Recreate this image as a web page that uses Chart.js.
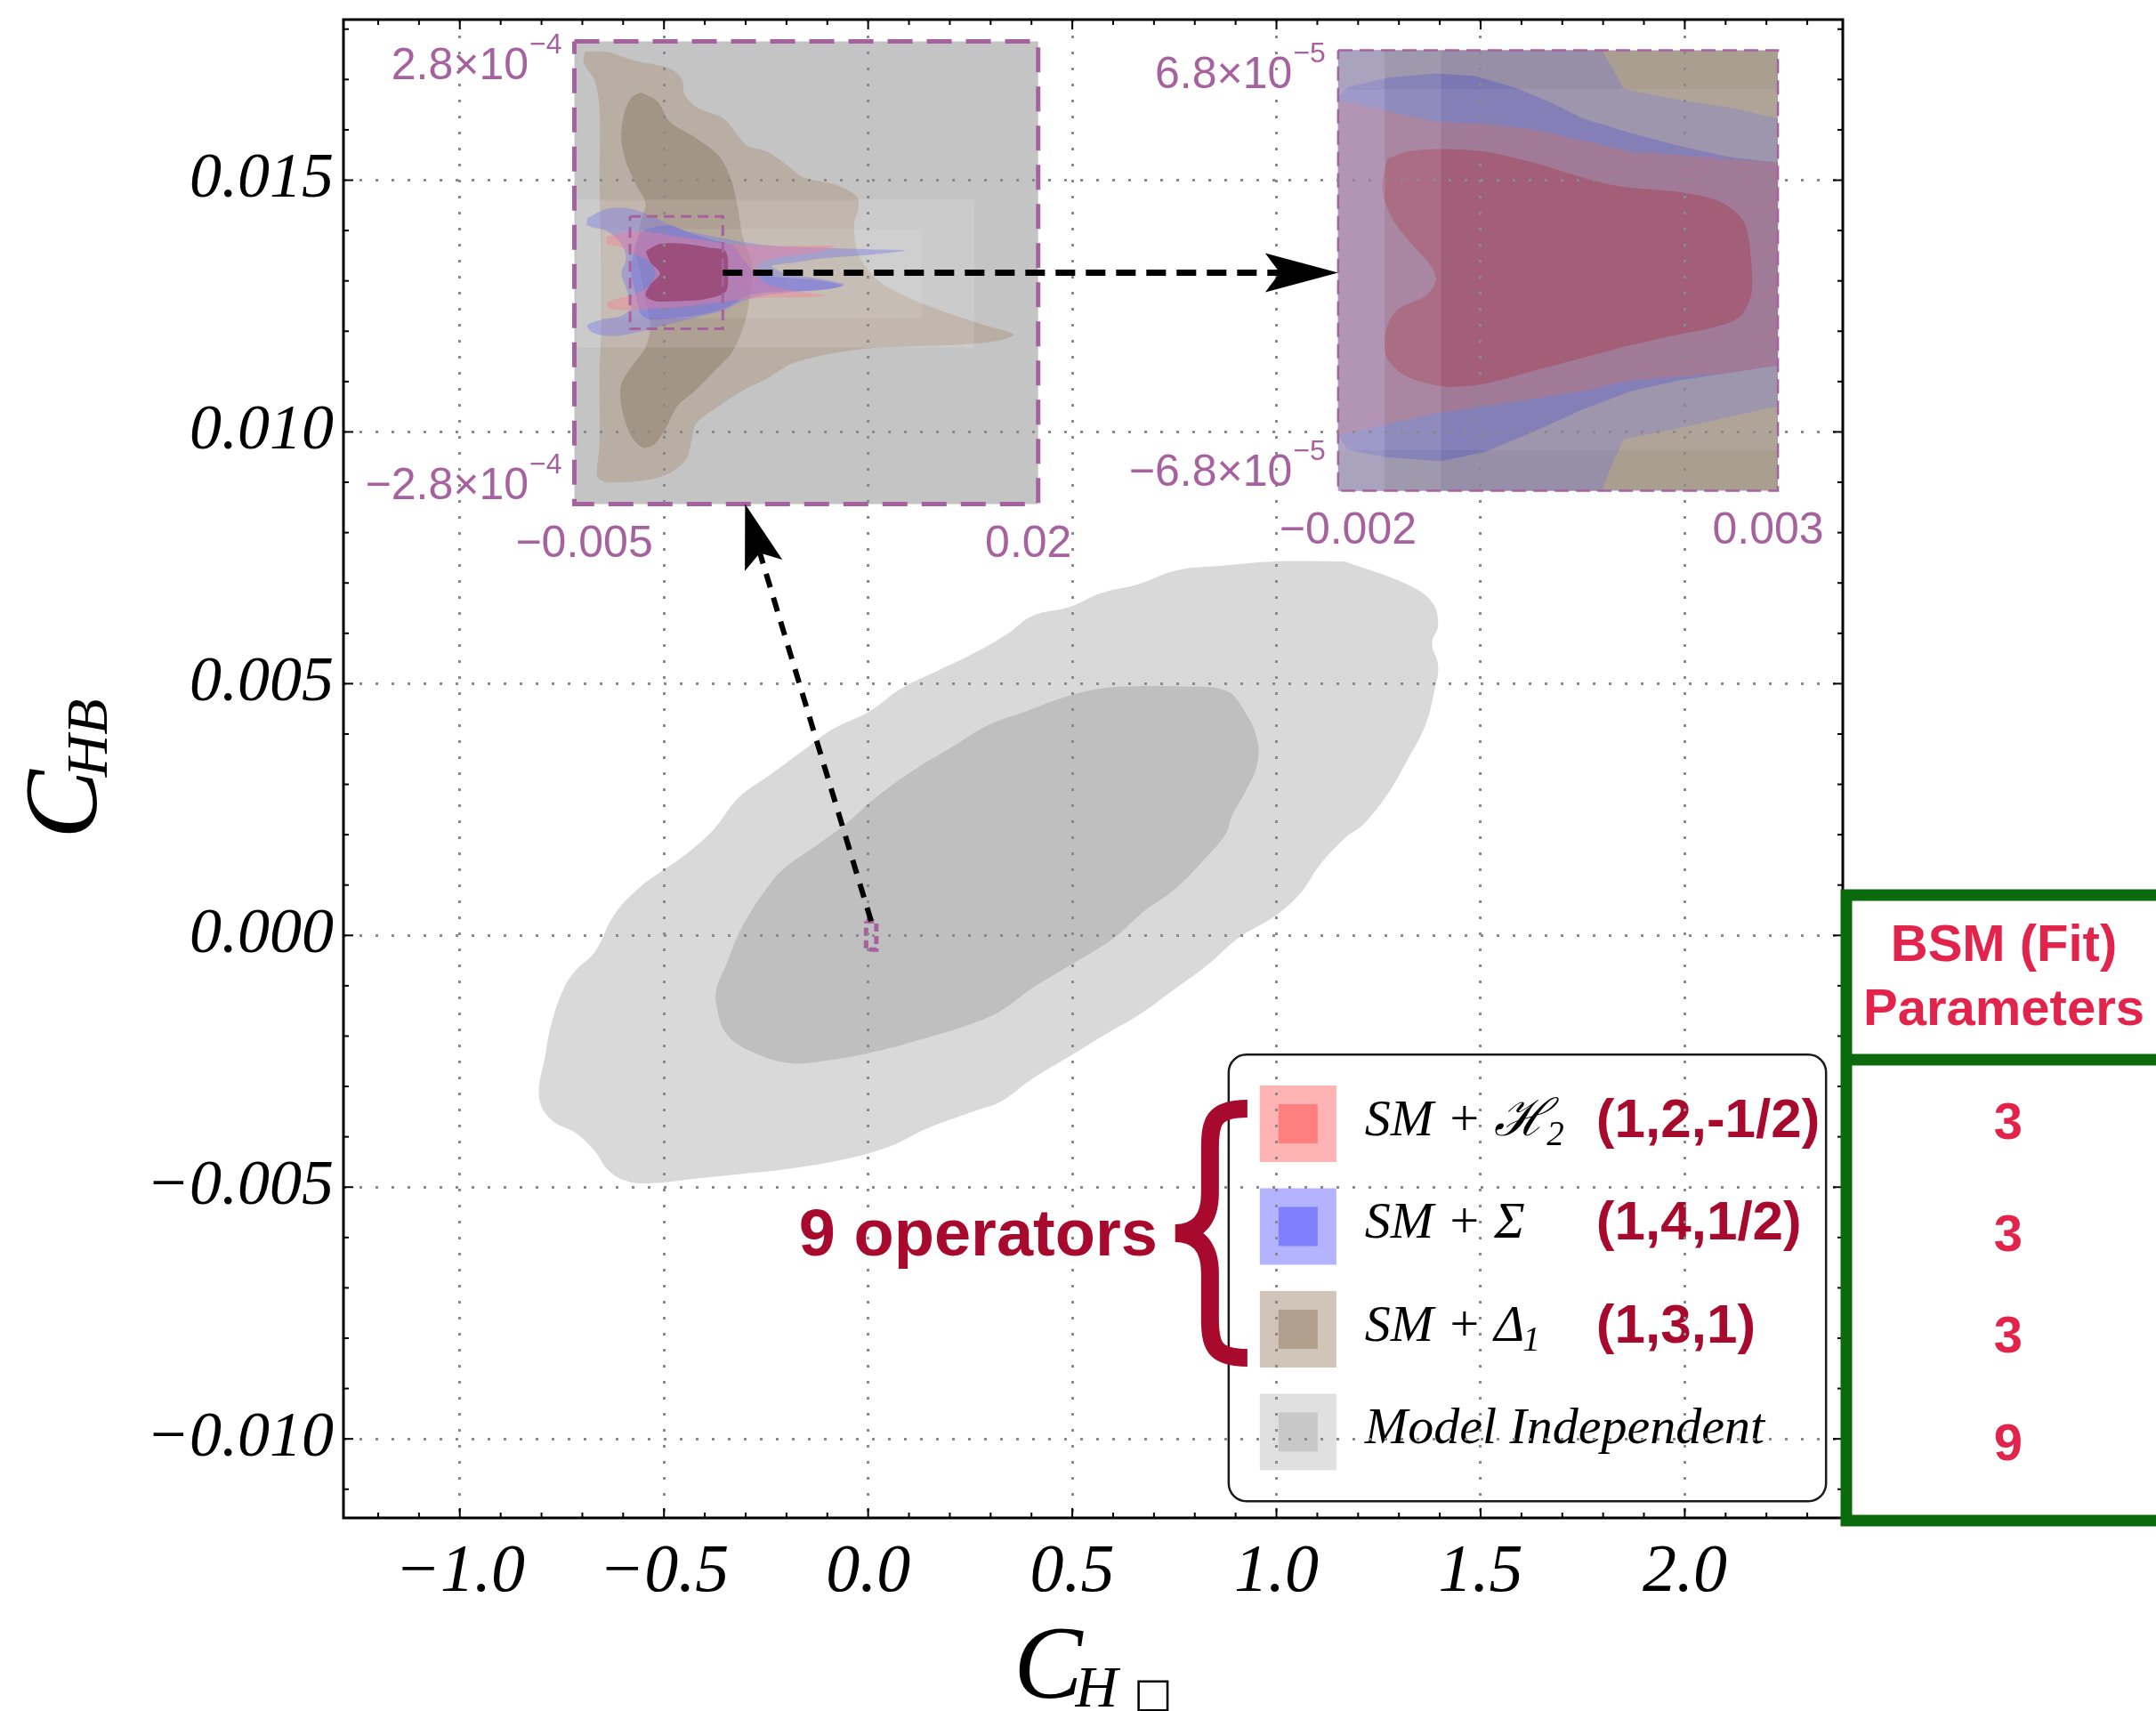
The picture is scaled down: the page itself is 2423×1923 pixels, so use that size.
<!DOCTYPE html>
<html>
<head>
<meta charset="utf-8">
<title>C_HB vs C_H□</title>
<script src="https://cdn.jsdelivr.net/npm/chart.js@4.4.1/dist/chart.umd.min.js"></script>
<style>
html, body { margin: 0; padding: 0; background: #ffffff; overflow: hidden; }
#wrap { position: relative; width: 2423px; height: 1923px; }
canvas { display: block; }
</style>
</head>
<body>
<div id="wrap"><canvas id="chart" width="2423" height="1923"></canvas></div>
<script>
// ------------------------------------------------------------------ data
const X_RANGE = [-1.285, 2.387];
const Y_RANGE = [-0.01157, 0.01819];
const X_STEP = 0.5;
const Y_STEP = 0.005;

const AXIS_TITLE_X = { main: 'C', sub: 'H', box: '\u25A1' };
const AXIS_TITLE_Y = { main: 'C', sub: 'HB' };

const SERIES_NAMES = ['SM + \u210B', 'SM + \u03A3', 'SM + \u0394', 'Model Independent'];
const SERIES_SUBS = ['2', '', '1', ''];
const SERIES_REPS = ['(1,2,-1/2)', '(1,4,1/2)', '(1,3,1)', ''];
const FIT_PARAMS = ['3', '3', '3', '9'];
const TABLE_HEADER = ['BSM (Fit)', 'Parameters'];
const BRACE_LABEL = '9 operators';

// Model independent 68% / 95% regions (C_H□, C_HB)
const MI_OUTER = [[1.167,0.007428],[1.319,0.006977],[1.381,0.006617],[1.396,0.006166],[1.381,0.005806],[1.396,0.005354],[1.388,0.004903],[1.365,0.004182],[1.319,0.003461],[1.274,0.002830],[1.212,0.002200],[1.167,0.001929],[1.105,0.001389],[1.060,0.000848],[0.998,0.000396],[0.906,-0.000055],[0.830,-0.000595],[0.754,-0.001046],[0.662,-0.001587],[0.585,-0.001947],[0.494,-0.002398],[0.402,-0.002848],[0.325,-0.003300],[0.264,-0.003481],[0.142,-0.003841],[0.050,-0.004201],[-0.072,-0.004472],[-0.210,-0.004652],[-0.317,-0.004742],[-0.424,-0.004832],[-0.531,-0.004922],[-0.592,-0.004877],[-0.638,-0.004652],[-0.669,-0.004291],[-0.715,-0.003931],[-0.776,-0.003661],[-0.806,-0.003209],[-0.791,-0.002398],[-0.776,-0.001767],[-0.745,-0.001046],[-0.715,-0.000686],[-0.669,-0.000325],[-0.623,0.000396],[-0.562,0.000936],[-0.501,0.001299],[-0.439,0.001659],[-0.378,0.002110],[-0.317,0.002740],[-0.240,0.003191],[-0.164,0.003641],[-0.088,0.004092],[0.004,0.004452],[0.081,0.004903],[0.172,0.005263],[0.264,0.005624],[0.341,0.005986],[0.402,0.006346],[0.494,0.006527],[0.570,0.006797],[0.662,0.006977],[0.754,0.007247],[0.861,0.007338],[0.998,0.007428]];
const MI_INNER = [[0.754,0.004949],[0.876,0.004859],[0.922,0.004452],[0.952,0.003912],[0.952,0.003371],[0.922,0.002830],[0.891,0.002380],[0.876,0.002019],[0.830,0.001569],[0.754,0.000936],[0.677,0.000486],[0.601,-0.000055],[0.494,-0.000595],[0.402,-0.001046],[0.325,-0.001496],[0.249,-0.001767],[0.142,-0.002037],[0.019,-0.002307],[-0.103,-0.002488],[-0.195,-0.002534],[-0.286,-0.002307],[-0.348,-0.001947],[-0.371,-0.001406],[-0.371,-0.001046],[-0.348,-0.000595],[-0.317,0.000035],[-0.286,0.000486],[-0.256,0.000848],[-0.210,0.001299],[-0.133,0.001749],[-0.057,0.002200],[0.019,0.002740],[0.111,0.003281],[0.203,0.003731],[0.295,0.004182],[0.387,0.004452],[0.478,0.004723],[0.570,0.004903],[0.662,0.004949]];

// inset 1 : range and placement (placement given in main-axis data units)
const INSET1_RANGE = { x: [-0.005, 0.02], y: [-2.8e-4, 2.8e-4] };
const INSET1_BOX = { x: [-0.7194, 0.4164], y: [0.008569, 0.017756] };
const INSET1_TICKS = { x: ['\u22120.005', '0.02'], y: [['2.8', '\u22124'], ['\u22122.8', '\u22124']] };
const INSET1_LIGHT_A = { x: [-0.0049, 0.01654], y: [-9.05e-5, 8.83e-5] };
const INSET1_LIGHT_B = { x: [-0.00351, 0.01371], y: [-5.49e-5, 5.28e-5] };
const D1_OUTER_1 = [[-0.00443,2.675e-4],[-0.00325,2.675e-4],[-0.00168,2.563e-4],[0.00015,2.473e-4],[0.0008,2.339e-4],[0.00093,2.16e-4],[0.00158,2.004e-4],[0.00302,1.87e-4],[0.0038,1.668e-4],[0.00433,1.534e-4],[0.00537,1.467e-4],[0.00655,1.288e-4],[0.00733,1.154e-4],[0.00903,1.065e-4],[0.0102,9.3e-5],[0.01033,7.96e-5],[0.01007,5.73e-5],[0.01033,2.15e-5],[0.01138,-9.8e-6],[0.01321,-3.22e-5],[0.0153,-5.01e-5],[0.01713,-6.35e-5],[0.01869,-7.47e-5],[0.01804,-8.14e-5],[0.01608,-8.68e-5],[0.01347,-8.9e-5],[0.01086,-9.17e-5],[0.00851,-9.93e-5],[0.00668,-1.105e-4],[0.00537,-1.284e-4],[0.00433,-1.396e-4],[0.00276,-1.619e-4],[0.00158,-1.82e-4],[0.00132,-2.022e-4],[0.00106,-2.245e-4],[0.00015,-2.424e-4],[-0.00116,-2.514e-4],[-0.00325,-2.536e-4],[-0.00377,-2.468e-4],[-0.00364,-2.066e-4],[-0.00364,-1.172e-4],[-0.00356,-7.25e-5],[-0.00356,1.7e-5],[-0.00364,1.065e-4],[-0.00364,1.959e-4],[-0.0039,2.317e-4],[-0.0045,2.541e-4]];
const D1_INNER_1 = [[-0.00142,2.183e-4],[-0.00051,2.071e-4],[0.00015,1.825e-4],[0.00145,1.646e-4],[0.00276,1.422e-4],[0.00341,1.154e-4],[0.0038,7.96e-5],[0.00407,4.38e-5],[0.00459,8.1e-6],[0.00446,-2.77e-5],[0.0042,-5.9e-5],[0.00354,-9.48e-5],[0.00263,-1.172e-4],[0.00145,-1.439e-4],[0.00054,-1.619e-4],[0.00002,-1.842e-4],[-0.00064,-2.066e-4],[-0.00129,-2.12e-4],[-0.00194,-1.977e-4],[-0.00247,-1.619e-4],[-0.00247,-1.35e-4],[-0.00181,-1.105e-4],[-0.00116,-9.04e-5],[-0.0009,-6.35e-5],[-0.00116,-3.67e-5],[-0.00142,-9e-7],[-0.00168,2.59e-5],[-0.00142,6.17e-5],[-0.00116,8.41e-5],[-0.00168,1.065e-4],[-0.00221,1.333e-4],[-0.00247,1.601e-4],[-0.00234,1.914e-4],[-0.00194,2.116e-4]];
const SIG_OUTER_1 = [[-0.0043,6.62e-5],[-0.00325,7.74e-5],[-0.00194,7.74e-5],[-0.00064,6.62e-5],[0.00067,5.28e-5],[0.00198,4.61e-5],[0.00302,4.16e-5],[0.00407,3.71e-5],[0.00563,3.26e-5],[0.00824,3.04e-5],[0.01086,2.82e-5],[0.01282,2.68e-5],[0.01086,2.15e-5],[0.00824,1.7e-5],[0.00694,1.25e-5],[0.00563,8.1e-6],[0.00642,-9e-7],[0.00824,-7.6e-6],[0.00955,-1.43e-5],[0.00903,-1.88e-5],[0.00694,-2.33e-5],[0.00511,-2.77e-5],[0.00407,-3.44e-5],[0.00302,-4.56e-5],[0.00145,-5.46e-5],[-0.00012,-6.35e-5],[-0.00168,-7.25e-5],[-0.00299,-7.69e-5],[-0.00403,-7.25e-5],[-0.0043,-6.35e-5],[-0.00351,-5.68e-5],[-0.00247,-5.23e-5],[-0.00194,-4.12e-5],[-0.00221,-1.88e-5],[-0.00247,-9e-7],[-0.00221,1.7e-5],[-0.00247,3.49e-5],[-0.00325,5.05e-5],[-0.0043,5.73e-5]];
const SIG_INNER_1 = [[-0.00116,5.28e-5],[0.00015,5.73e-5],[0.00119,4.83e-5],[0.0025,3.94e-5],[0.00354,3.26e-5],[0.00407,1.7e-5],[0.00485,-9e-7],[0.00824,-9.8e-6],[0.00942,-1.56e-5],[0.00824,-2.1e-5],[0.00563,-2.33e-5],[0.00433,-2.77e-5],[0.00328,-4.12e-5],[0.00198,-5.01e-5],[0.00041,-5.46e-5],[-0.0009,-5.68e-5],[-0.00142,-5.01e-5],[-0.00168,-2.77e-5],[-0.00194,-9e-7],[-0.00181,2.59e-5],[-0.00155,4.38e-5]];
const H2_OUTER_1 = [[-0.00325,4.38e-5],[-0.00221,4.92e-5],[-0.0009,4.92e-5],[0.00041,4.38e-5],[0.00198,3.94e-5],[0.00328,3.49e-5],[0.00511,3.26e-5],[0.00694,3.26e-5],[0.00903,3.26e-5],[0.00824,2.59e-5],[0.00694,2.15e-5],[0.00563,1.7e-5],[0.00485,8.1e-6],[0.00511,-9.8e-6],[0.00616,-1.88e-5],[0.0072,-2.33e-5],[0.00851,-2.77e-5],[0.0072,-3.0e-5],[0.00563,-3.0e-5],[0.00407,-3.22e-5],[0.0025,-3.67e-5],[0.00093,-4.12e-5],[-0.00064,-4.34e-5],[-0.00221,-4.56e-5],[-0.00312,-4.34e-5],[-0.00325,-3.67e-5],[-0.00247,-3.0e-5],[-0.00168,-2.55e-5],[-0.0009,-1.43e-5],[-0.00064,-9e-7],[-0.0009,1.25e-5],[-0.00168,2.15e-5],[-0.00247,3.04e-5],[-0.00325,3.49e-5]];
const H2_INNER_1 = [[-0.00116,2.59e-5],[-0.00038,3.49e-5],[0.00093,3.49e-5],[0.00224,3.04e-5],[0.00315,2.59e-5],[0.00328,-9e-7],[0.00315,-2.33e-5],[0.00198,-3.22e-5],[0.00041,-3.44e-5],[-0.00064,-3.44e-5],[-0.00116,-2.77e-5],[-0.0009,-1.43e-5],[-0.00038,-9e-7],[-0.0009,1.25e-5]];

// inset 2 : range and placement
const INSET2_RANGE = { x: [-0.002, 0.003], y: [-6.8e-5, 6.8e-5] };
const INSET2_BOX = { x: [1.1511, 2.2281], y: [0.008834, 0.017580] };
const INSET2_TICKS = { x: ['\u22120.002', '0.003'], y: [['6.8', '\u22125'], ['\u22126.8', '\u22125']] };
const INSET2_BAND = { x: [-0.002, 0.003], y: [-5.55e-5, 5.6e-5] };
const INSET2_STRIP_L = { x: [-0.002, -0.00147], y: [-6.8e-5, 6.8e-5] };
const INSET2_STRIP_M = { x: [-0.00147, -0.00083], y: [-6.8e-5, 6.8e-5] };
const SIG_OUTER_2 = [[-0.002,6.8e-5],[0.001,6.8e-5],[0.001111,6.288e-5],[0.00125,5.605e-5],[0.001889,5.264e-5],[0.002444,5.036e-5],[0.003,4.695e-5],[0.003,-4.183e-5],[0.002444,-4.524e-5],[0.001889,-4.865e-5],[0.00125,-5.207e-5],[0.001111,-6.003e-5],[0.001,-6.8e-5],[-0.002,-6.8e-5]];
const SIG_INNER_2 = [[-0.002,5.377e-5],[-0.001889,5.662e-5],[-0.001444,5.946e-5],[-0.000889,6.083e-5],[-0.000444,6.003e-5],[0.000056,5.605e-5],[0.000444,5.15e-5],[0.000778,4.695e-5],[0.001333,4.239e-5],[0.001889,3.841e-5],[0.002444,3.5e-5],[0.003,3.329e-5],[0.003,-2.93e-5],[0.002444,-3.158e-5],[0.001889,-3.386e-5],[0.001333,-3.727e-5],[0.000778,-4.296e-5],[0.000222,-4.979e-5],[-0.000333,-5.605e-5],[-0.000833,-5.889e-5],[-0.001444,-5.775e-5],[-0.001889,-5.548e-5],[-0.002,-5.093e-5]];
const H2_OUTER_2 = [[-0.002,5.264e-5],[-0.001444,4.922e-5],[-0.000889,4.581e-5],[-0.000333,4.524e-5],[0.000222,4.353e-5],[0.000778,4.012e-5],[0.001333,3.67e-5],[0.001889,3.556e-5],[0.002444,3.443e-5],[0.003,3.329e-5],[0.003,-2.93e-5],[0.002444,-3.158e-5],[0.001889,-3.272e-5],[0.001333,-3.386e-5],[0.000778,-3.727e-5],[0.000222,-3.955e-5],[-0.000333,-4.183e-5],[-0.000889,-4.41e-5],[-0.001444,-4.751e-5],[-0.002,-5.093e-5]];
const H2_INNER_2 = [[-0.001444,3.443e-5],[-0.001222,3.67e-5],[-0.000889,3.75e-5],[-0.000333,3.67e-5],[0.000222,3.329e-5],[0.000778,2.874e-5],[0.001222,2.589e-5],[0.001889,2.418e-5],[0.002333,2.134e-5],[0.002611,1.508e-5],[0.002694,3.7e-6],[0.002694,-7.68e-6],[0.002556,-1.451e-5],[0.002222,-1.792e-5],[0.001889,-1.963e-5],[0.001333,-2.305e-5],[0.000778,-2.703e-5],[0.000222,-3.101e-5],[-0.000333,-3.5e-5],[-0.000778,-3.591e-5],[-0.001222,-3.272e-5],[-0.001444,-2.703e-5],[-0.001461,-1.906e-5],[-0.001333,-1.223e-5],[-0.001,-7.68e-6],[-0.000889,-3.13e-6],[-0.000944,1.42e-6],[-0.001167,8.25e-6],[-0.001389,1.622e-5],[-0.0015,2.532e-5]];

// annotation anchors
const LEGEND_BOX = { x: [0.883, 2.346], y: [-0.011237, -0.0023675] };
const ARROW1 = { from: [0.0075, 2.8e-4], to: [0.0042, -2.8e-4] };   // main -> inset 1
const ARROW2 = { from: [0.003, 0], to: [-0.002, 0] };              // inset 1 -> inset 2

// ------------------------------------------------------------------ styles
const SERIF = '"Liberation Serif", "DejaVu Serif", serif';
const SANS = '"Liberation Sans", Arial, sans-serif';
const C_PURPLE = '#A6619F';
const C_DARKRED = '#A80A2E';
const C_TABLE_TEXT = '#E2244C';
const C_GREEN = '#0B6A0B';
const SWATCH_OUTER = ['#FFB3B3', '#B3B3FF', '#D0C5B8', '#E0E0E0'];
const SWATCH_INNER = ['#FF7F7F', '#7F7FFF', '#B09F8D', '#C8C8C8'];

function rectPts(r) { return [[r.x[0], r.y[1]], [r.x[1], r.y[1]], [r.x[1], r.y[0]], [r.x[0], r.y[0]]]; }
function closed(pts) { const d = pts.map(p => ({ x: p[0], y: p[1] })); d.push({ x: pts[0][0], y: pts[0][1] }); return d; }
function area(pts, color, xID, yID, tension) {
  return { type: 'line', data: closed(pts), xAxisID: xID, yAxisID: yID, backgroundColor: color,
    borderColor: 'rgba(0,0,0,0)', borderWidth: 0, pointRadius: 0, pointHoverRadius: 0, fill: 'shape', tension: tension };
}
function outline(pts, color, width, dash, xID, yID) {
  return { type: 'line', data: closed(pts), xAxisID: xID, yAxisID: yID, borderColor: color, borderWidth: width,
    borderDash: dash, borderCapStyle: 'butt', borderJoinStyle: 'miter', fill: false, pointRadius: 0, pointHoverRadius: 0, tension: 0, clip: false };
}

const layers = [
  area(MI_OUTER, '#D9D9D9', 'x', 'y', 0.4),
  area(MI_INNER, '#BFBFBF', 'x', 'y', 0.4),
  // inset 1
  area(rectPts(INSET1_RANGE), '#C4C4C4', 'ix', 'iy', 0),
  area(D1_OUTER_1, '#B9AEA3', 'ix', 'iy', 0.3),
  area(D1_INNER_1, '#A39585', 'ix', 'iy', 0.3),
  area(rectPts(INSET1_LIGHT_A), 'rgba(255,255,255,0.12)', 'ix', 'iy', 0),
  area(rectPts(INSET1_LIGHT_B), 'rgba(255,255,255,0.09)', 'ix', 'iy', 0),
  area(SIG_OUTER_1, 'rgba(120,120,230,0.42)', 'ix', 'iy', 0.3),
  area(SIG_INNER_1, 'rgba(100,100,230,0.35)', 'ix', 'iy', 0.3),
  area(H2_OUTER_1, 'rgba(255,120,140,0.36)', 'ix', 'iy', 0.3),
  area(H2_INNER_1, 'rgba(140,45,85,0.58)', 'ix', 'iy', 0.3),
  outline(rectPts(INSET1_RANGE), C_PURPLE, 5, [28, 16], 'ix', 'iy'),
  outline(rectPts(INSET2_RANGE), C_PURPLE, 3, [12, 7], 'ix', 'iy'),
  // inset 2
  area(rectPts(INSET2_RANGE), '#AA9E91', 'jx', 'jy', 0),
  area(SIG_OUTER_2, '#968FA7', 'jx', 'jy', 0),
  area(SIG_INNER_2, '#7B77B2', 'jx', 'jy', 0),
  area(H2_OUTER_2, '#9A7091', 'jx', 'jy', 0),
  area(H2_INNER_2, '#9D536E', 'jx', 'jy', 0.3),
  area(rectPts(INSET2_BAND), 'rgba(255,255,255,0.07)', 'jx', 'jy', 0),
  area(rectPts(INSET2_STRIP_L), 'rgba(215,205,240,0.32)', 'jx', 'jy', 0),
  area(rectPts(INSET2_STRIP_M), 'rgba(255,255,255,0.09)', 'jx', 'jy', 0),
  outline(rectPts(INSET2_RANGE), C_PURPLE, 2.5, [16, 8], 'jx', 'jy'),
  // zoom marker on the main plot
  outline(rectPts(INSET1_RANGE), C_PURPLE, 5, [9, 5], 'x', 'y')
];
layers.forEach((d, i) => { d.order = layers.length - i; });

function fmtTick(v, d) {
  const s = Math.abs(v) < 1e-12 ? (0).toFixed(d) : v.toFixed(d);
  return s.replace('-', '\u2212');
}

// ------------------------------------------------------------------ drawing helpers
function seg(ctx, x0, y0, x1, y1) { ctx.beginPath(); ctx.moveTo(x0, y0); ctx.lineTo(x1, y1); ctx.stroke(); }
function roundRect(ctx, x, y, w, h, r) {
  ctx.beginPath();
  ctx.moveTo(x + r, y); ctx.lineTo(x + w - r, y); ctx.arcTo(x + w, y, x + w, y + r, r);
  ctx.lineTo(x + w, y + h - r); ctx.arcTo(x + w, y + h, x + w - r, y + h, r);
  ctx.lineTo(x + r, y + h); ctx.arcTo(x, y + h, x, y + h - r, r);
  ctx.lineTo(x, y + r); ctx.arcTo(x, y, x + r, y, r); ctx.closePath();
}
function arrow(ctx, p0, p1, lw, dash, headLen, headHalf) {
  const ang = Math.atan2(p1.y - p0.y, p1.x - p0.x);
  const notch = headLen * 0.8;
  ctx.save();
  ctx.strokeStyle = '#000'; ctx.fillStyle = '#000'; ctx.lineWidth = lw; ctx.lineCap = 'butt';
  ctx.setLineDash(dash);
  seg(ctx, p0.x, p0.y, p1.x - Math.cos(ang) * notch, p1.y - Math.sin(ang) * notch);
  ctx.setLineDash([]);
  ctx.translate(p1.x, p1.y); ctx.rotate(ang);
  ctx.beginPath(); ctx.moveTo(0, 0); ctx.lineTo(-headLen, -headHalf); ctx.lineTo(-notch, 0); ctx.lineTo(-headLen, headHalf); ctx.closePath(); ctx.fill();
  ctx.restore();
}
function sciLabel(ctx, mant, exp, xRight, yBase) {
  ctx.font = '50px ' + SANS; const wm = ctx.measureText(mant + '\u00D710').width;
  ctx.font = '32px ' + SANS; const we = ctx.measureText(exp).width;
  ctx.textAlign = 'left';
  ctx.fillText(exp, xRight - we, yBase - 29);
  ctx.font = '50px ' + SANS;
  ctx.fillText(mant + '\u00D710', xRight - we - wm - 1, yBase);
}
function nameWithSub(ctx, main, sub, x, yb, size) {
  ctx.font = 'italic ' + size + 'px ' + SERIF;
  ctx.textAlign = 'left';
  ctx.fillText(main, x, yb);
  if (sub) {
    const w = ctx.measureText(main).width;
    ctx.font = 'italic ' + Math.round(size * 0.68) + 'px ' + SERIF;
    ctx.fillText(sub, x + w - 2, yb + 11);
  }
}

function legendGeom(chart) {
  const { scales: { x, y } } = chart;
  const L = x.getPixelForValue(LEGEND_BOX.x[0]), R = x.getPixelForValue(LEGEND_BOX.x[1]);
  const T = y.getPixelForValue(LEGEND_BOX.y[1]), B = y.getPixelForValue(LEGEND_BOX.y[0]);
  const rowH = (B - T - 40) / SERIES_NAMES.length;
  return { L, R, T, B, rowH, row: i => T + 20 + rowH * (i + 0.5) };
}

function drawLegend(chart) {
  const ctx = chart.ctx;
  const g = legendGeom(chart);
  ctx.save();
  roundRect(ctx, g.L, g.T, g.R - g.L, g.B - g.T, 20);
  ctx.fillStyle = '#ffffff'; ctx.fill();
  ctx.lineWidth = 2.5; ctx.strokeStyle = '#1a1a1a'; ctx.stroke();
  ctx.textBaseline = 'alphabetic';
  SERIES_NAMES.forEach((name, i) => {
    const c = g.row(i);
    const sx = g.L + 78;
    ctx.fillStyle = SWATCH_OUTER[i]; ctx.fillRect(sx - 43, c - 43, 86, 86);
    ctx.fillStyle = SWATCH_INNER[i]; ctx.fillRect(sx - 22, c - 22, 44, 44);
    ctx.fillStyle = '#000';
    nameWithSub(ctx, name, SERIES_SUBS[i], g.L + 153, c + 13, 58);
    if (SERIES_REPS[i]) {
      ctx.fillStyle = C_DARKRED; ctx.font = 'bold 62px ' + SANS; ctx.textAlign = 'left';
      ctx.fillText(SERIES_REPS[i], g.L + 413, c + 15);
    }
  });
  ctx.restore();
}

function drawFrameAndTicks(chart) {
  const { ctx, chartArea: a, scales: { x, y } } = chart;
  ctx.save();
  ctx.strokeStyle = '#000'; ctx.lineWidth = 2;
  const sx = X_STEP / 5;
  for (let k = Math.ceil(x.min / sx); k * sx <= x.max + 1e-9; k++) {
    const len = k % 5 === 0 ? 11 : 6;
    const px = x.getPixelForValue(k * sx);
    seg(ctx, px, a.bottom, px, a.bottom - len);
    seg(ctx, px, a.top, px, a.top + len);
  }
  const sy = Y_STEP / 5;
  for (let k = Math.ceil(y.min / sy); k * sy <= y.max + 1e-12; k++) {
    const len = k % 5 === 0 ? 11 : 6;
    const py = y.getPixelForValue(k * sy);
    seg(ctx, a.left, py, a.left + len, py);
    seg(ctx, a.right, py, a.right - len, py);
  }
  ctx.lineWidth = 3;
  ctx.strokeRect(a.left, a.top, a.right - a.left, a.bottom - a.top);
  ctx.restore();
}

function drawInsetLabels(chart, sx, sy, ticks) {
  const ctx = chart.ctx;
  ctx.save();
  ctx.fillStyle = C_PURPLE; ctx.textBaseline = 'alphabetic';
  const left = sx.left, right = sx.right, top = sy.top, bottom = sy.bottom;
  sciLabel(ctx, ticks.y[0][0], ticks.y[0][1], left - 14, top + 42);
  sciLabel(ctx, ticks.y[1][0], ticks.y[1][1], left - 14, bottom - 5);
  ctx.font = '50px ' + SANS; ctx.textAlign = 'center';
  ctx.fillText(ticks.x[0], left + 11, bottom + 60);
  ctx.fillText(ticks.x[1], right - 11, bottom + 60);
  ctx.restore();
}

function drawBraceAndLabel(chart) {
  const ctx = chart.ctx;
  const g = legendGeom(chart);
  const xr = g.L + 21, xt = g.L - 60, xv = g.L - 21;
  const yTop = g.row(0) - 27, yBot = g.row(2) + 42, ym = (yTop + yBot) / 2;
  ctx.save();
  ctx.strokeStyle = C_DARKRED; ctx.lineWidth = 20; ctx.lineCap = 'butt'; ctx.lineJoin = 'round';
  ctx.beginPath();
  ctx.moveTo(xr, yTop + 10);
  ctx.bezierCurveTo(xv + 4, yTop + 10, xv, yTop + 24, xv, yTop + 55);
  ctx.lineTo(xv, ym - 45);
  ctx.bezierCurveTo(xv, ym - 15, xv - 14, ym, xt, ym);
  ctx.stroke();
  ctx.beginPath();
  ctx.moveTo(xt, ym);
  ctx.bezierCurveTo(xv - 14, ym, xv, ym + 15, xv, ym + 45);
  ctx.lineTo(xv, yBot - 55);
  ctx.bezierCurveTo(xv, yBot - 24, xv + 4, yBot - 10, xr, yBot - 10);
  ctx.stroke();
  ctx.fillStyle = C_DARKRED; ctx.font = 'bold 74px ' + SANS; ctx.textAlign = 'right'; ctx.textBaseline = 'alphabetic';
  ctx.fillText(BRACE_LABEL, xt - 20, ym + 25);
  ctx.restore();
}

function drawTable(chart) {
  const { ctx, chartArea: a } = chart;
  const L = a.right + 4, R = chart.width + 30;
  const T = a.bottom - 700, D = a.bottom - 515, B = a.bottom + 3;
  ctx.save();
  ctx.strokeStyle = C_GREEN; ctx.lineWidth = 13;
  ctx.strokeRect(L, T, R - L, B - T);
  seg(ctx, L, D, R, D);
  ctx.fillStyle = C_TABLE_TEXT; ctx.font = 'bold 58px ' + SANS; ctx.textAlign = 'center'; ctx.textBaseline = 'alphabetic';
  ctx.fillText(TABLE_HEADER[0], L + 177, T + 74);
  ctx.fillText(TABLE_HEADER[1], L + 177, T + 146);
  const rowBase = [274, 400, 514, 635];
  FIT_PARAMS.forEach((p, i) => ctx.fillText(p, L + 182, T + rowBase[i]));
  ctx.restore();
}

function drawAxisTitles(chart) {
  const { ctx, chartArea: a } = chart;
  const fMain = 'italic 116px ' + SERIF, fSub = 'italic 66px ' + SERIF;
  const fBox = 'italic 46px "DejaVu Sans", sans-serif';
  ctx.save();
  ctx.fillStyle = '#000'; ctx.textAlign = 'left'; ctx.textBaseline = 'alphabetic';
  ctx.font = fMain; const wC = ctx.measureText(AXIS_TITLE_X.main).width;
  ctx.font = fSub; const wH = ctx.measureText(AXIS_TITLE_X.sub).width;
  ctx.font = fBox; const wB = ctx.measureText(AXIS_TITLE_X.box).width;
  const total = wC - 8 + wH + 18 + wB;
  const x0 = (a.left + a.right) / 2 - total / 2;
  ctx.font = fMain; ctx.fillText(AXIS_TITLE_X.main, x0, 1908);
  ctx.font = fSub; ctx.fillText(AXIS_TITLE_X.sub, x0 + wC - 8, 1918);
  ctx.font = fBox; ctx.fillText(AXIS_TITLE_X.box, x0 + wC - 8 + wH + 18, 1918);
  ctx.font = fMain; const wCy = ctx.measureText(AXIS_TITLE_Y.main).width;
  ctx.font = fSub; const wS = ctx.measureText(AXIS_TITLE_Y.sub).width;
  const totY = wCy - 8 + wS;
  ctx.translate(108, (a.top + a.bottom) / 2 + totY / 2);
  ctx.rotate(-Math.PI / 2);
  ctx.font = fMain; ctx.fillText(AXIS_TITLE_Y.main, 0, 0);
  ctx.font = fSub; ctx.fillText(AXIS_TITLE_Y.sub, wCy - 8, 12);
  ctx.restore();
}

const overlayPlugin = {
  id: 'overlay',
  afterLayout(chart) {
    const { x, y } = chart.scales;
    const place = (sx, sy, box) => {
      sx.left = x.getPixelForValue(box.x[0]); sx.right = x.getPixelForValue(box.x[1]); sx.width = sx.right - sx.left;
      sy.top = y.getPixelForValue(box.y[1]); sy.bottom = y.getPixelForValue(box.y[0]); sy.height = sy.bottom - sy.top;
      sx.configure(); sy.configure();
    };
    place(chart.scales.ix, chart.scales.iy, INSET1_BOX);
    place(chart.scales.jx, chart.scales.jy, INSET2_BOX);
  },
  afterDatasetsDraw(chart) {
    drawLegend(chart);
  },
  afterDraw(chart) {
    const ctx = chart.ctx;
    const s = chart.scales;
    drawFrameAndTicks(chart);
    const p0 = { x: s.ix.getPixelForValue(ARROW2.from[0]), y: s.iy.getPixelForValue(ARROW2.from[1]) };
    const p1 = { x: s.jx.getPixelForValue(ARROW2.to[0]), y: p0.y };
    arrow(ctx, p0, p1, 7, [22, 12], 82, 22);
    const q0 = { x: s.x.getPixelForValue(ARROW1.from[0]), y: s.y.getPixelForValue(ARROW1.from[1]) };
    const q1 = { x: s.ix.getPixelForValue(ARROW1.to[0]), y: s.iy.getPixelForValue(ARROW1.to[1]) };
    arrow(ctx, q0, q1, 6, [16, 12], 72, 22);
    drawInsetLabels(chart, s.ix, s.iy, INSET1_TICKS);
    drawInsetLabels(chart, s.jx, s.jy, INSET2_TICKS);
    drawBraceAndLabel(chart);
    drawTable(chart);
    drawAxisTitles(chart);
  }
};

const hidden = (axis, pos, r) => ({ type: 'linear', axis: axis, position: pos, display: false, min: r[0], max: r[1] });

new Chart(document.getElementById('chart'), {
  type: 'line',
  data: { datasets: layers },
  options: {
    responsive: false,
    devicePixelRatio: 1,
    animation: false,
    events: [],
    layout: { padding: { left: 0, right: 352, top: 22, bottom: 0 } },
    plugins: { legend: { display: false }, tooltip: { enabled: false }, title: { display: false } },
    scales: {
      x: {
        type: 'linear', position: 'bottom', min: X_RANGE[0], max: X_RANGE[1],
        afterFit: (sc) => { sc.height = 217; sc.paddingLeft = 0; sc.paddingRight = 0; },
        grid: { z: 1, color: '#8a8a8a', lineWidth: 3, drawTicks: false },
        border: { display: false, dash: [3, 15] },
        ticks: { stepSize: X_STEP, includeBounds: false, autoSkip: false, maxRotation: 0, padding: 16, color: '#000',
          font: { family: SERIF, style: 'italic', size: 76 }, callback: (v) => fmtTick(v, 1) }
      },
      y: {
        type: 'linear', position: 'left', min: Y_RANGE[0], max: Y_RANGE[1],
        afterFit: (sc) => { sc.width = 386; sc.paddingTop = 0; sc.paddingBottom = 0; },
        grid: { z: 1, color: '#8a8a8a', lineWidth: 3, drawTicks: false },
        border: { display: false, dash: [3, 15] },
        ticks: { stepSize: Y_STEP, includeBounds: false, autoSkip: false, padding: 11, color: '#000',
          font: { family: SERIF, style: 'italic', size: 72 }, callback: (v) => fmtTick(v, 3) }
      },
      ix: hidden('x', 'bottom', INSET1_RANGE.x),
      iy: hidden('y', 'left', INSET1_RANGE.y),
      jx: hidden('x', 'bottom', INSET2_RANGE.x),
      jy: hidden('y', 'left', INSET2_RANGE.y)
    }
  },
  plugins: [overlayPlugin]
});
</script>
</body>
</html>
